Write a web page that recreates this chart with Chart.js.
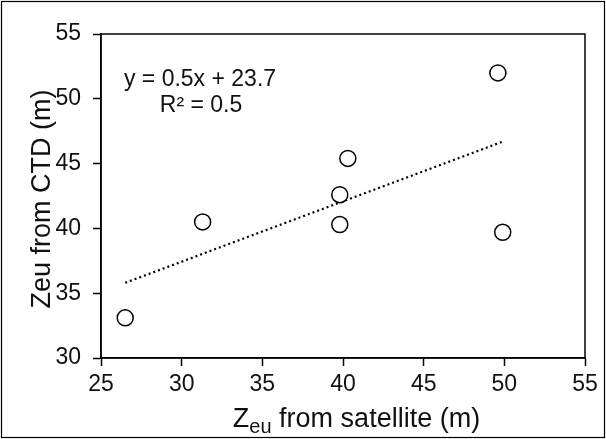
<!DOCTYPE html>
<html>
<head>
<meta charset="utf-8">
<script src="https://cdn.jsdelivr.net/npm/chart.js@4.4.1/dist/chart.umd.min.js"></script>
<style>
  html, body { margin: 0; padding: 0; background: #fff; }
  #wrap { width: 606px; height: 439px; }
</style>
</head>
<body>
<div id="wrap"><canvas id="c" width="606" height="439"></canvas></div>
<script>
(function () {
  "use strict";

  var satelliteZeu = [26.5, 31.3, 39.8, 39.8, 40.3, 49.6, 49.9];
  var ctdZeu = [33.1, 40.5, 42.6, 40.3, 45.4, 52.0, 39.7];
  var trendX = [26.5, 49.9];
  var trendY = [35.8, 46.7];
  var xTicks = [25, 30, 35, 40, 45, 50, 55];
  var yTicks = [30, 35, 40, 45, 50, 55];
  var equationText = "y = 0.5x + 23.7";
  var r2Text = "R\u00b2 = 0.5";

  var FONT = "'Liberation Sans', Arial, sans-serif";

  function pairs(xs, ys) {
    return xs.map(function (x, i) { return { x: x, y: ys[i] }; });
  }

  var decorations = {
    id: "decorations",
    afterDraw: function (chart) {
      var ctx = chart.ctx;
      var a = chart.chartArea;
      ctx.save();
      // outer border
      ctx.strokeStyle = "#000";
      ctx.lineWidth = 1.2;
      ctx.strokeRect(1.5, 1.5, 603, 436);
      // plot frame
      ctx.lineWidth = 1.5;
      ctx.strokeRect(a.left, a.top, a.right - a.left, a.bottom - a.top);

      ctx.fillStyle = "#111";
      // equation
      ctx.font = "23px " + FONT;
      ctx.textBaseline = "alphabetic";
      ctx.textAlign = "center";
      ctx.fillText(equationText, 200, 86);
      ctx.fillText(r2Text, 201, 112);

      // y title
      ctx.font = "27px " + FONT;
      ctx.save();
      ctx.translate(50, 199);
      ctx.rotate(-Math.PI / 2);
      ctx.textAlign = "center";
      ctx.fillText("Zeu from CTD (m)", 0, 0);
      ctx.restore();

      // x title with subscript
      var big = "27px " + FONT, small = "20px " + FONT;
      ctx.font = big;
      var wZ = ctx.measureText("Z").width;
      var rest = " from satellite (m)";
      var wRest = ctx.measureText(rest).width;
      ctx.font = small;
      var wSub = ctx.measureText("eu").width;
      var total = wZ + wSub + wRest;
      var x0 = 356.5 - total / 2;
      var yb = 427;
      ctx.textAlign = "left";
      ctx.font = big;
      ctx.fillText("Z", x0, yb);
      ctx.font = small;
      ctx.fillText("eu", x0 + wZ, yb + 6);
      ctx.font = big;
      ctx.fillText(rest, x0 + wZ + wSub, yb);
      ctx.restore();
    }
  };

  var axisCommon = {
    grid: { display: true, drawOnChartArea: false, drawTicks: true, tickLength: 8, tickColor: "#000", tickWidth: 1.5 },
    border: { display: true, color: "#000", width: 1.5 },
    ticks: { color: "#111", font: { family: FONT, size: 23 } }
  };

  new Chart(document.getElementById("c"), {
    type: "scatter",
    data: {
      datasets: [
        {
          label: "Trend",
          type: "line",
          data: pairs(trendX, trendY),
          borderColor: "#000",
          borderWidth: 2.2,
          borderDash: [2, 3],
          pointRadius: 0,
          fill: false,
          order: 2
        },
        {
          label: "Zeu",
          data: pairs(satelliteZeu, ctdZeu),
          pointStyle: "circle",
          pointRadius: 8,
          pointBorderWidth: 1.5,
          pointBorderColor: "#000",
          pointBackgroundColor: "#fff",
          order: 1
        }
      ]
    },
    options: {
      responsive: false,
      animation: false,
      layout: { padding: { top: 34, right: 21, left: 0, bottom: 0 } },
      plugins: { legend: { display: false }, tooltip: { enabled: false } },
      scales: {
        x: Object.assign({}, axisCommon, {
          type: "linear",
          min: xTicks[0],
          max: xTicks[xTicks.length - 1],
          afterBuildTicks: function (s) { s.ticks = xTicks.map(function (v) { return { value: v }; }); },
          afterFit: function (s) { s.height = 81; },
          ticks: Object.assign({}, axisCommon.ticks, { padding: 5, maxRotation: 0 })
        }),
        y: Object.assign({}, axisCommon, {
          type: "linear",
          min: yTicks[0],
          max: yTicks[yTicks.length - 1],
          afterBuildTicks: function (s) { s.ticks = yTicks.map(function (v) { return { value: v }; }); },
          afterFit: function (s) { s.width = 101; },
          ticks: Object.assign({}, axisCommon.ticks, { padding: 12 })
        })
      }
    },
    plugins: [decorations]
  });
})();
</script>
</body>
</html>
